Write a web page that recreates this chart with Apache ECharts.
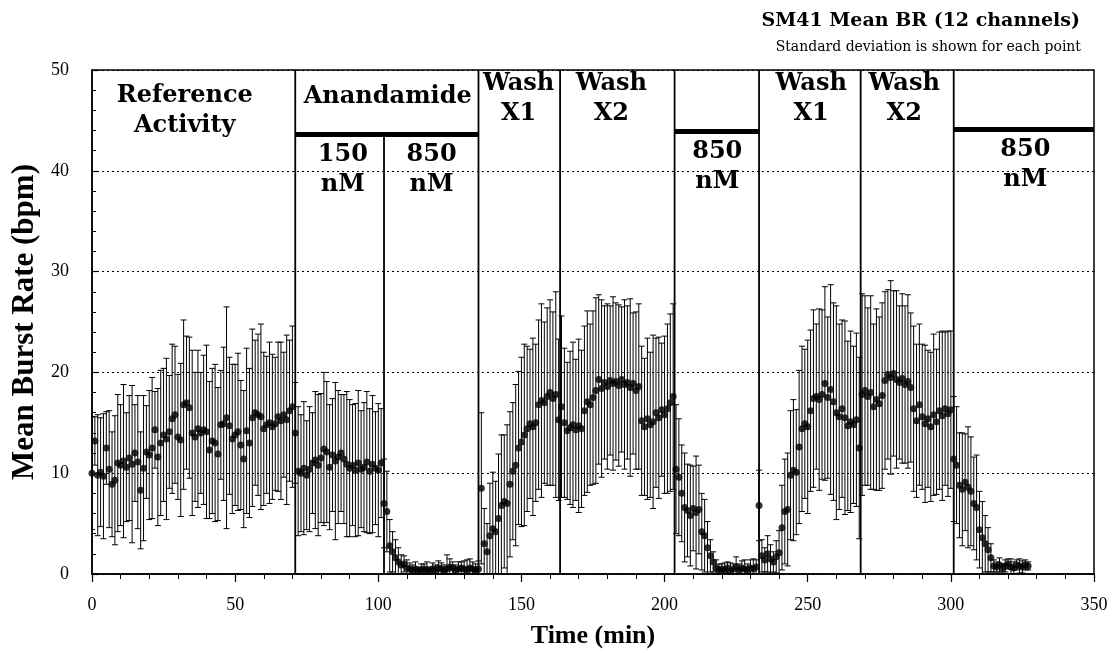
<!DOCTYPE html>
<html>
<head>
<meta charset="utf-8">
<title>SM41 Mean BR (12 channels)</title>
<script src="https://cdn.jsdelivr.net/npm/echarts@6/dist/echarts.min.js"></script>
<style>
  html, body { margin: 0; padding: 0; background: #fff; }
  #chart { width: 1117px; height: 654px; }
</style>
</head>
<body>
<div id="chart"></div>
<script>
// Recording sampled once per minute, starting at t = 0 min
const startMinute = 0;
const minutesPerSample = 1;

// Mean burst rate (bpm) across the 12 channels, one value per minute
const meanBurstRate = [
  10.0, 13.2, 9.8, 10.1, 9.7, 12.5, 10.4, 8.9, 9.3, 11.0,
  10.8, 11.2, 10.6, 11.5, 10.9, 12.0, 11.1, 8.3, 10.5, 12.1,
  11.8, 12.5, 14.3, 11.6, 13.0, 13.8, 13.4, 14.1, 15.4, 15.8,
  13.6, 13.3, 16.8, 17.0, 16.5, 14.0, 13.6, 14.4, 14.0, 14.3,
  14.1, 12.3, 13.2, 13.0, 11.9, 14.8, 14.9, 15.5, 14.7, 13.4,
  13.8, 14.1, 12.8, 11.4, 14.2, 13.0, 15.5, 16.0, 15.8, 15.6,
  14.4, 14.8, 15.0, 14.6, 14.9, 15.6, 15.2, 15.8, 15.3, 16.2,
  16.6, 14.0, 10.2, 10.0, 10.5, 9.8, 10.4, 11.0, 11.3, 10.8,
  11.5, 12.4, 12.1, 10.6, 11.8, 11.2, 11.6, 12.0, 11.4, 10.9,
  10.5, 10.8, 10.3, 11.0, 10.4, 10.6, 11.1, 10.2, 10.9, 10.5,
  10.3, 11.0, 7.0, 6.2, 2.8, 2.2, 1.6, 1.2, 0.9, 1.0,
  0.6, 0.5, 0.4, 0.5, 0.3, 0.4, 0.5, 0.4, 0.3, 0.5,
  0.4, 0.6, 0.5, 0.4, 0.5, 0.7, 0.6, 0.4, 0.5, 0.6,
  0.5, 0.4, 0.6, 0.5, 0.4, 0.5, 8.5, 3.0, 2.2, 3.8,
  4.5, 4.2, 5.5, 6.8, 7.2, 7.0, 8.9, 10.2, 10.8, 12.5,
  13.1, 13.8, 14.4, 14.9, 14.6, 15.0, 16.8, 17.2, 17.0, 17.6,
  18.0, 17.4, 17.8, 15.3, 16.6, 15.0, 14.2, 14.5, 14.8, 14.3,
  14.7, 14.4, 16.2, 17.1, 16.8, 17.5, 18.2, 19.3, 18.4, 19.0,
  18.6, 19.2, 18.9, 19.1, 18.7, 19.3, 18.8, 19.0, 18.5, 18.9,
  18.2, 18.6, 15.2, 14.6, 15.4, 14.8, 15.1, 16.0, 15.5, 16.3,
  15.8, 16.4, 17.0, 17.6, 10.4, 9.6, 8.0, 6.6, 6.3, 5.8,
  6.5, 6.1, 6.4, 4.2, 3.8, 2.6, 1.8, 1.2, 0.6, 0.4,
  0.5, 0.4, 0.6, 0.3, 0.5, 0.7, 0.4, 0.6, 0.5, 0.4,
  0.6, 0.5, 0.7, 6.8, 1.8, 1.4, 2.0, 1.5, 1.2, 1.7,
  2.1, 4.6, 6.2, 6.4, 9.8, 10.3, 10.1, 12.6, 14.4, 14.9,
  14.6, 16.2, 17.4, 17.6, 17.3, 17.8, 18.9, 17.5, 18.3, 17.1,
  16.0, 15.6, 16.4, 15.5, 14.7, 15.1, 14.8, 15.3, 12.5, 17.8,
  18.2, 17.6, 18.0, 16.6, 17.3, 16.9, 17.7, 19.2, 19.8, 19.5,
  19.9, 19.3, 19.0, 19.4, 18.8, 19.1, 18.5, 16.4, 15.2, 16.8,
  15.6, 14.9, 15.4, 14.6, 15.8, 15.1, 16.2, 15.7, 16.4, 15.9,
  16.3, 11.4, 10.8, 8.8, 8.4, 9.1, 8.6, 8.2, 7.0, 6.6,
  4.4, 3.6, 3.0, 2.4, 1.6, 0.8, 0.7, 0.9, 0.6, 0.8,
  1.0, 0.7, 0.6, 0.9, 0.8, 0.7, 0.9, 0.8
];

// Standard deviation (bpm) for each point
const stdDeviation = [
  5.6, 2.4, 6.0, 5.4, 6.2, 3.6, 5.8, 5.2, 6.4, 6.8,
  6.0, 7.6, 5.4, 6.2, 7.8, 4.8, 6.6, 5.8, 7.2, 4.6,
  6.4, 7.0, 3.8, 6.8, 7.2, 6.6, 8.0, 5.6, 7.4, 6.8,
  6.2, 7.6, 8.4, 6.6, 7.0, 8.2, 6.4, 7.8, 6.0, 7.4,
  8.6, 6.8, 7.2, 7.8, 6.6, 5.4, 7.6, 11.0, 6.8, 7.4,
  7.0, 7.8, 6.4, 6.8, 8.2, 7.4, 8.8, 7.2, 8.0, 9.2,
  7.6, 6.8, 8.0, 7.2, 6.6, 7.4, 7.8, 6.2, 8.4, 7.0,
  8.0, 5.0, 6.4, 5.8, 6.6, 5.4, 6.2, 5.0, 6.8, 7.0,
  6.4, 7.6, 7.0, 6.2, 5.6, 7.8, 6.6, 5.8, 6.4, 7.2,
  6.8, 6.0, 6.6, 7.2, 5.8, 6.4, 7.0, 6.2, 6.8, 5.6,
  6.6, 5.4, 4.4, 4.0, 2.6, 2.0, 1.8, 1.4, 1.0, 0.8,
  0.8, 0.6, 0.5, 0.7, 0.4, 0.6, 0.5, 0.8, 0.4, 0.6,
  0.5, 0.7, 0.6, 0.5, 1.4, 0.8, 0.6, 0.5, 0.7, 0.6,
  0.8, 1.0, 0.9, 0.7, 0.6, 0.8, 7.5, 3.5, 2.8, 5.2,
  5.6, 5.0, 6.4, 7.0, 6.6, 7.8, 7.2, 6.8, 8.0, 7.6,
  8.4, 9.0, 8.2, 7.4, 8.8, 7.8, 8.4, 9.6, 8.0, 8.8,
  9.2, 8.6, 10.2, 8.0, 9.0, 7.4, 6.8, 7.6, 8.2, 7.0,
  8.6, 7.8, 8.4, 9.0, 8.0, 8.6, 9.2, 8.4, 8.8, 7.6,
  8.2, 7.4, 8.6, 7.8, 8.0, 7.2, 8.4, 7.6, 8.8, 7.0,
  7.8, 8.2, 7.4, 6.8, 8.0, 7.2, 8.6, 7.4, 8.0, 6.6,
  7.8, 8.4, 8.8, 9.2, 6.4, 5.8, 4.8, 5.4, 4.6, 5.0,
  4.2, 5.6, 4.4, 3.8, 3.6, 2.6, 1.6, 1.0, 0.8, 0.6,
  0.5, 0.7, 0.6, 0.8, 0.5, 1.0, 0.6, 0.7, 0.9, 0.6,
  0.8, 1.0, 0.7, 3.5, 1.6, 1.2, 1.8, 1.4, 1.0, 1.6,
  2.2, 4.2, 5.2, 5.6, 6.4, 7.0, 6.2, 7.6, 8.2, 7.4,
  8.6, 8.0, 8.8, 7.2, 9.0, 8.4, 9.6, 8.0, 10.4, 9.8,
  10.6, 9.2, 8.8, 9.6, 8.4, 9.0, 7.8, 8.6, 9.0, 10.0,
  9.4, 8.8, 9.6, 8.2, 9.0, 8.6, 9.2, 8.8, 8.4, 9.6,
  8.2, 8.8, 7.6, 8.4, 7.8, 8.6, 7.4, 8.2, 7.6, 8.0,
  7.2, 7.8, 6.8, 7.4, 8.0, 7.2, 7.8, 8.4, 7.6, 8.2,
  7.8, 6.2, 5.8, 5.2, 5.6, 4.8, 6.0, 5.4, 4.6, 5.2,
  3.8, 3.6, 2.8, 2.2, 1.4, 0.6, 0.5, 0.7, 0.4, 0.6,
  0.5, 0.8, 0.6, 0.5, 0.7, 0.6, 0.5, 0.4
];

// Protocol phase boundaries (min); the 150/850 nM split sits under the drug bar
const phaseBoundaries = [71, 102, 135, 163.5, 203.5, 233, 268.5, 301];

// Anandamide application periods (start, end in min)
const drugPeriods = [[71, 135], [203.5, 233], [301, 350]];

// Phase captions
const phaseCaptions = [
  'Reference\nActivity', 'Anandamide', '150\nnM', '850\nnM',
  'Wash\nX1', 'Wash\nX2', '850\nnM', 'Wash\nX1', 'Wash\nX2', '850\nnM'
];

// Axis tick values
const timeTicks = [0, 50, 100, 150, 200, 250, 300, 350];
const rateTicks = [0, 10, 20, 30, 40, 50];

// ---- layout (placement of captions, drug bars and divider tops, in axis units) ----
const captionAnchors = [
  [32.4, 46.0], [103.3, 47.3], [87.6, 40.1], [118.6, 40.1],
  [149.0, 47.1], [181.4, 47.1], [218.4, 40.4], [251.2, 47.1],
  [283.7, 47.1], [326.0, 40.6]
];
const drugBarLevels = [43.6, 43.9, 44.1];
const dividerTops = [50, 43.6, 50, 50, 50, 50, 50, 50];

const times = meanBurstRate.map((_, i) => startMinute + i * minutesPerSample);
const meanPoints = times.map((t, i) => [t, meanBurstRate[i]]);
const errorRanges = times.map((t, i) => [
  t,
  Math.max(0, meanBurstRate[i] - stdDeviation[i]),
  meanBurstRate[i] + stdDeviation[i]
]);

const SERIF_BOLD = 'bold 24px "DejaVu Serif"';

const chart = echarts.init(document.getElementById('chart'), null, { renderer: 'canvas' });

chart.setOption({
  backgroundColor: '#ffffff',
  animation: false,
  title: [
    {
      text: 'SM41 Mean BR (12 channels)',
      right: 32,
      top: 7,
      textStyle: { fontFamily: 'DejaVu Serif', fontWeight: 'bold', fontSize: 19, color: '#000' }
    },
    {
      text: 'Standard deviation is shown for each point',
      right: 31,
      top: 35,
      textStyle: { fontFamily: 'DejaVu Serif', fontWeight: 'normal', fontSize: 14, color: '#000' }
    }
  ],
  grid: {
    left: 92, right: 23, top: 70, bottom: 77,
    show: true, borderColor: '#000', borderWidth: 1.5, backgroundColor: 'transparent'
  },
  xAxis: {
    type: 'value',
    min: timeTicks[0],
    max: timeTicks[timeTicks.length - 1],
    interval: timeTicks[1] - timeTicks[0],
    name: 'Time (min)',
    nameLocation: 'middle',
    nameGap: 49,
    nameTextStyle: { fontFamily: 'Liberation Serif', fontWeight: 'bold', fontSize: 26, color: '#000' },
    axisLine: { lineStyle: { color: '#000', width: 1.5 } },
    axisTick: { show: true, inside: false, length: 8, lineStyle: { color: '#000', width: 1.2 } },
    minorTick: { show: true, splitNumber: 5, length: 5, lineStyle: { color: '#000', width: 1 } },
    axisLabel: { margin: 22, fontFamily: 'Liberation Serif', fontSize: 18, color: '#000' },
    splitLine: { show: false }
  },
  yAxis: {
    type: 'value',
    min: rateTicks[0],
    max: rateTicks[rateTicks.length - 1],
    interval: rateTicks[1] - rateTicks[0],
    name: 'Mean Burst Rate (bpm)',
    nameLocation: 'middle',
    nameGap: 47,
    nameTextStyle: { fontFamily: 'Liberation Serif', fontWeight: 'bold', fontSize: 31, color: '#000' },
    axisLine: { show: true, lineStyle: { color: '#000', width: 1.5 } },
    axisTick: { show: true, inside: true, length: 6, lineStyle: { color: '#000', width: 1.2 } },
    minorTick: { show: true, splitNumber: 5, length: 4, lineStyle: { color: '#000', width: 1 } },
    axisLabel: { margin: 23, fontFamily: 'Liberation Serif', fontSize: 18, color: '#000' },
    splitLine: { show: true, lineStyle: { color: '#000', width: 1, type: [2, 3] } }
  },
  series: [
    {
      // standard-deviation bars
      type: 'custom',
      name: 'SD',
      data: errorRanges,
      encode: { x: 0, y: [1, 2] },
      clip: true,
      z: 2,
      renderItem: function (params, api) {
        const t = api.value(0);
        const top = api.coord([t, api.value(2)]);
        const bot = api.coord([t, api.value(1)]);
        const hw = 3;
        const st = { stroke: '#000', lineWidth: 1 };
        return {
          type: 'group',
          children: [
            { type: 'line', shape: { x1: top[0], y1: top[1], x2: bot[0], y2: bot[1] }, style: st },
            { type: 'line', shape: { x1: top[0] - hw, y1: top[1], x2: top[0] + hw, y2: top[1] }, style: st },
            { type: 'line', shape: { x1: bot[0] - hw, y1: bot[1], x2: bot[0] + hw, y2: bot[1] }, style: st }
          ]
        };
      }
    },
    {
      // mean burst rate
      type: 'scatter',
      name: 'Mean BR',
      data: meanPoints,
      symbol: 'circle',
      symbolSize: 7,
      itemStyle: { color: '#000' },
      z: 3
    },
    {
      // phase boundaries
      type: 'custom',
      name: 'phases',
      data: phaseBoundaries.map((t, i) => [t, rateTicks[0], dividerTops[i]]),
      encode: { x: 0, y: [1, 2] },
      z: 4,
      silent: true,
      renderItem: function (params, api) {
        const t = api.value(0);
        const a = api.coord([t, api.value(1)]);
        const b = api.coord([t, api.value(2)]);
        return {
          type: 'line',
          shape: { x1: a[0], y1: a[1], x2: b[0], y2: b[1] },
          style: { stroke: '#000', lineWidth: 1.8 }
        };
      }
    },
    {
      // drug application bars
      type: 'custom',
      name: 'drug',
      data: drugPeriods.map((p, i) => [p[0], p[1], drugBarLevels[i]]),
      encode: { x: [0, 1], y: 2 },
      z: 5,
      silent: true,
      renderItem: function (params, api) {
        const a = api.coord([api.value(0), api.value(2)]);
        const b = api.coord([api.value(1), api.value(2)]);
        return {
          type: 'line',
          shape: { x1: a[0], y1: a[1], x2: b[0], y2: b[1] },
          style: { stroke: '#000', lineWidth: 5 }
        };
      }
    },
    {
      // phase captions
      type: 'custom',
      name: 'captions',
      data: captionAnchors,
      encode: { x: 0, y: 1 },
      z: 6,
      silent: true,
      renderItem: function (params, api) {
        const p = api.coord([api.value(0), api.value(1)]);
        return {
          type: 'text',
          x: p[0],
          y: p[1],
          style: {
            text: phaseCaptions[params.dataIndex],
            font: SERIF_BOLD,
            fill: '#000',
            align: 'center',
            verticalAlign: 'middle',
            lineHeight: 30
          }
        };
      }
    }
  ]
});
</script>
</body>
</html>
